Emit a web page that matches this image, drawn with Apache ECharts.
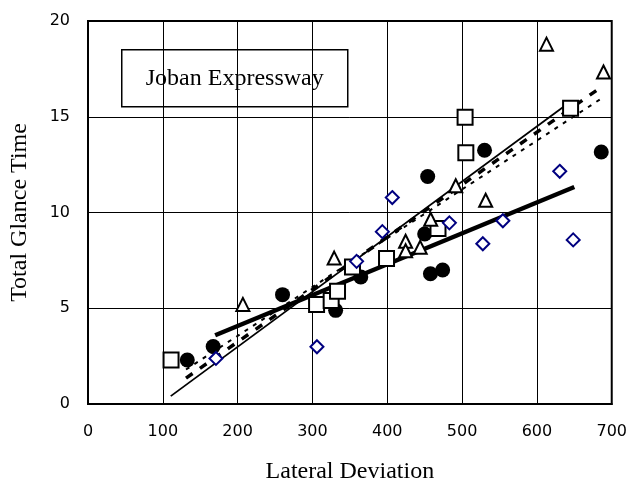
<!DOCTYPE html>
<html><head><meta charset="utf-8">
<script src="https://cdn.jsdelivr.net/npm/echarts@6/dist/echarts.min.js"></script>
<style>html,body{margin:0;padding:0;background:#fff}#c{width:630px;height:489px}</style>
</head><body><div id="c"></div>
<script>
const xTicks = [0,100,200,300,400,500,600,700];
const yTicks = [0,5,10,15,20];
const circles = [[132.7,2.3],[167.3,3.0],[260,5.71],[331,4.89],[364.6,6.63],[450,8.88],[454,11.88],[457.7,6.8],[474,7.0],[530,13.25],[686,13.16]];
const squares = [[111,2.3],[305.5,5.2],[325,5.4],[333.5,5.89],[353.5,7.15],[399,7.6],[467.8,9.17],[504,14.98],[505,13.12],[645,15.45]];
const triangles = [[207,5.2],[329,7.62],[424.5,8.5],[424.5,8.0],[444,8.18],[458,9.65],[491.5,11.4],[531.5,10.64],[612.8,18.79],[689,17.34]];
const diamonds = [[171,2.38],[306,2.99],[359,7.45],[393.4,9.0],[406.7,10.78],[483,9.46],[527.7,8.37],[554.5,9.57],[630.5,12.15],[648.5,8.57]];
const lineThin = [[110.6,0.41],[642,15.7]];
const lineThick = [[170,3.59],[650,11.33]];
const lineDashed = [[131,1.35],[686,16.55]];
const lineDotted = [[131,1.8],[688,16.0]];
const boxText = 'Joban Expressway';

const chart = echarts.init(document.getElementById('c'));
const scat = (data, symbol, size, style) => ({type:'scatter', data, symbol, symbolSize:size, itemStyle:Object.assign({opacity:1}, style), z:5});
const ln = (data, width, type) => ({type:'line', data, symbol:'none', lineStyle:{color:'#000', width, type}, z:4});
chart.setOption({
  animation:false,
  grid:{left:88,right:16,top:21,bottom:82,show:true,borderColor:'#000',borderWidth:2,backgroundColor:'transparent'},
  xAxis:{type:'value',min:0,max:700,interval:100,
    name:'Lateral Deviation',nameLocation:'middle',nameGap:56,
    nameTextStyle:{fontFamily:'Liberation Serif',fontSize:24,color:'#000'},
    axisLine:{show:true,lineStyle:{color:'#000',width:2}},axisTick:{show:false},
    axisLabel:{color:'#000',fontFamily:'DejaVu Sans',fontSize:16,margin:20},
    splitLine:{show:true,lineStyle:{color:'#000',width:1}}},
  yAxis:{type:'value',min:0,max:20,interval:5,
    name:'Total Glance Time',nameLocation:'middle',nameGap:56,
    nameTextStyle:{fontFamily:'Liberation Serif',fontSize:24,color:'#000'},
    axisLine:{show:true,lineStyle:{color:'#000',width:2}},axisTick:{show:false},
    axisLabel:{color:'#000',fontFamily:'DejaVu Sans',fontSize:16,margin:18},
    splitLine:{show:true,lineStyle:{color:'#000',width:1}}},
  graphic:[{type:'group',left:121,top:49,children:[
    {type:'rect',shape:{x:0,y:0,width:226,height:57},style:{fill:'#fff',stroke:'#000',lineWidth:1.5}},
    {type:'text',x:113,y:29,style:{text:boxText,fill:'#000',font:'24px "Liberation Serif"',align:'center',verticalAlign:'middle'}}
  ]}],
  series:[
    ln(lineThin,1.8,'solid'),
    ln(lineThick,4.5,'solid'),
    ln(lineDashed,3.5,[8,9]),
    ln(lineDotted,2,[4,6]),
    scat(circles,'circle',15,{color:'#000'}),
    scat(squares,'rect',15,{color:'#fff',borderColor:'#000',borderWidth:2}),
    scat(triangles,'triangle',13,{color:'#fff',borderColor:'#000',borderWidth:2}),
    scat(diamonds,'diamond',13,{color:'#fff',borderColor:'#000080',borderWidth:2})
  ]
});
</script></body></html>
